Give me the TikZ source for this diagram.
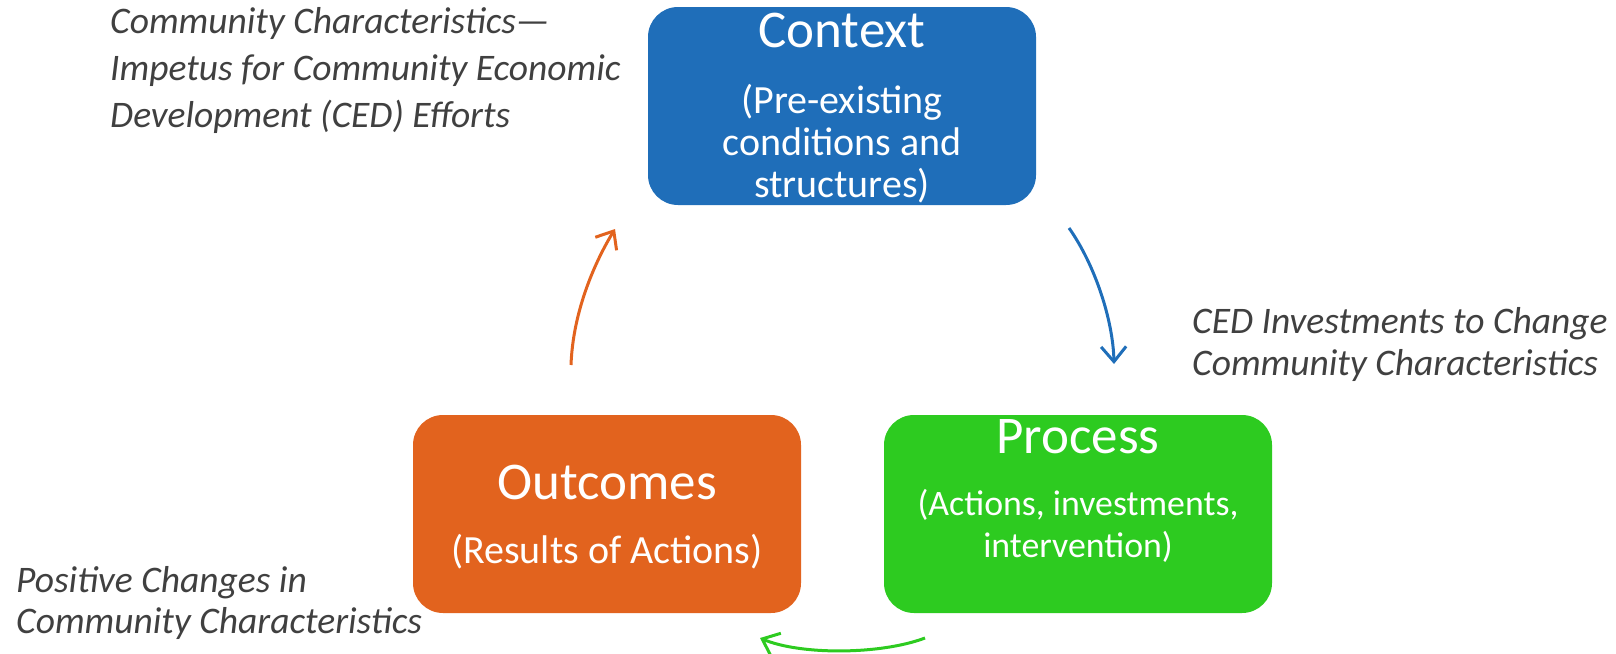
\documentclass[tikz,border=0pt]{standalone}
\usepackage{xcolor}
\usepackage{fontspec}
\setmainfont{Carlito}
\usepackage{tikz}
\usetikzlibrary{positioning}
\usetikzlibrary{arrows.meta}
\definecolor{ctxblue}{RGB}{31,110,185}
\definecolor{procgreen}{RGB}{45,203,32}
\definecolor{outorange}{RGB}{226,99,30}
\definecolor{notegray}{RGB}{64,64,64}
\tikzset{
    stage/.style={rounded corners=30pt, minimum width=388pt, minimum height=198pt, inner sep=0pt},
    title/.style={text=white, anchor=base, font=\fontsize{53}{60}\selectfont},
    sub/.style={text=white, anchor=base, align=center, inner sep=0pt, font=\fontsize{#1}{42}\selectfont},
    note/.style={text=notegray, anchor=base west, align=left, inner sep=0pt, font=\fontsize{37.5}{#1}\selectfont\itshape},
    flow/.style={line width=3pt, draw=#1, -{Straight Barb[length=15pt,width=25pt]}},
}

\begin{document}
\begin{tikzpicture}[x=1pt,y=-1pt]
    \useasboundingbox (0,0) rectangle (1616,653);
    \node (ctx) [stage, fill=ctxblue] at (842,106) {};
    \node (proc) [stage, fill=procgreen] at (1078,514) {};
    \node (out) [stage, fill=outorange] at (607,514) {};

    \node (ctxt) [title] at (842,47) {Context};
    \node (ctxs) [sub=40] at (842,197) {(Pre-existing\\conditions and\\structures)};
    \node (proct) [title] at (1078,453) {Process};
    \node (procs) [sub=35.8] at (1078,557) {(Actions, investments,\\intervention)};
    \node (outt) [title] at (607,499) {Outcomes};
    \node (outs) [sub=40] at (607,563) {(Results of Actions)};

    \node (n1) [note=47] at (110,127) {Community Characteristics—\\Impetus for Community Economic\\Development (CED) Efforts};
    \node (n2) [note=42] at (1192,375) {CED Investments to Change\\Community Characteristics};
    \node (n3) [note=41] at (16,633) {Positive Changes in\\Community Characteristics};

    \coordinate (b1) at (1069,228);
    \coordinate (b2) at (1114,364);
    \coordinate (g1) at (925,638);
    \coordinate (g2) at (760,638);
    \coordinate (o1) at (571,365);
    \coordinate (o2) at (615,229);
    \draw[flow=ctxblue] (b1) .. controls (1095,265) and (1113,320) .. (b2);
    \draw[flow=procgreen] (g1) .. controls (880,655) and (800,655) .. (g2);
    \draw[flow=outorange] (o1) .. controls (573,310) and (596,260) .. (o2);
\end{tikzpicture}
\end{document}
